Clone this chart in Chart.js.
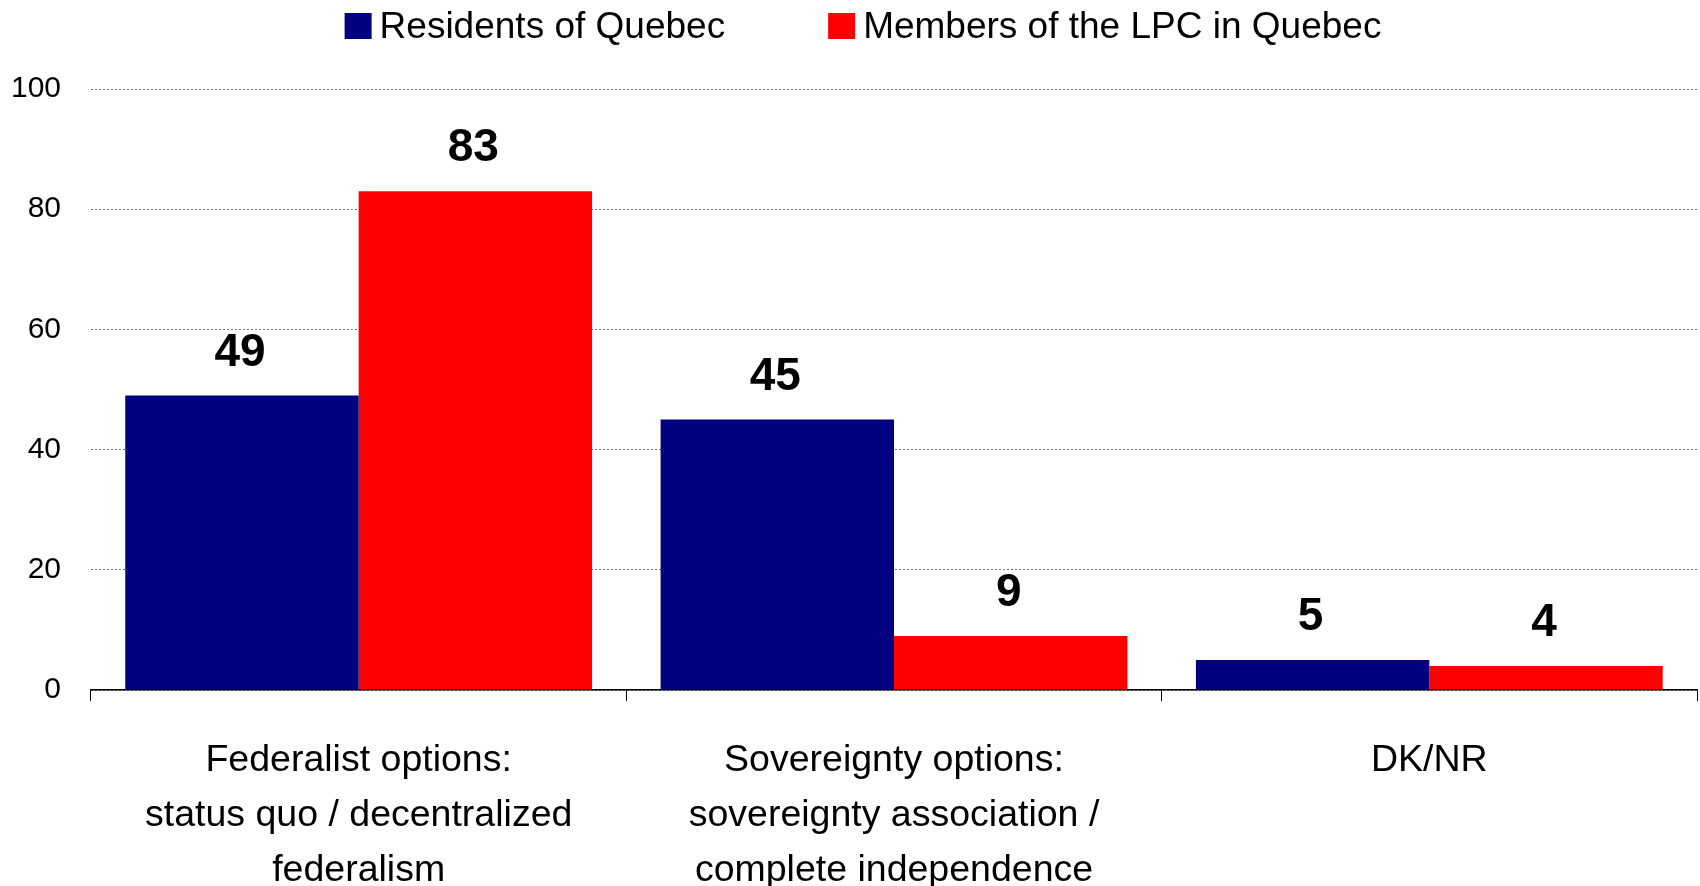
<!DOCTYPE html>
<html>
<head>
<meta charset="utf-8">
<script src="https://cdn.jsdelivr.net/npm/chart.js@4/dist/chart.umd.min.js"></script>
<style>
html,body{margin:0;padding:0;background:#fff;}
#wrap{width:1700px;height:886px;}
</style>
</head>
<body>
<div id="wrap"><canvas id="c"></canvas></div>
<script>
const categories = [
  ["Federalist options:", "status quo / decentralized", "federalism"],
  ["Sovereignty options:", "sovereignty association /", "complete independence"],
  ["DK/NR"]
];
const seriesNames = ["Residents of Quebec", "Members of the LPC in Quebec"];
const residents = [49, 45, 5];
const members = [83, 9, 4];
const yTicks = [0, 20, 40, 60, 80, 100];
const colors = ["#000080", "#FF0000"];

const FONT = "'Liberation Sans', Arial, sans-serif";

const valueLabels = {
  id: 'valueLabels',
  afterDatasetsDraw(chart) {
    const ctx = chart.ctx;
    ctx.save();
    ctx.fillStyle = '#000';
    ctx.font = 'bold 46px ' + FONT;
    ctx.textAlign = 'center';
    ctx.textBaseline = 'alphabetic';
    chart.data.datasets.forEach((ds, i) => {
      const meta = chart.getDatasetMeta(i);
      meta.data.forEach((bar, j) => {
        ctx.fillText(String(ds.data[j]), bar.x - 2, bar.y - 30);
      });
    });
    ctx.restore();
  }
};

const customLegend = {
  id: 'customLegend',
  afterDraw(chart) {
    const ctx = chart.ctx;
    ctx.save();
    ctx.font = '37px ' + FONT;
    const box = 27, gapText = 8, gapItems = 103;
    const items = chart.data.datasets.map(ds => ({label: ds.label, color: ds.backgroundColor, w: ctx.measureText(ds.label).width}));
    let total = 0;
    items.forEach((it, i) => { total += box + gapText + it.w + (i < items.length - 1 ? gapItems : 0); });
    let x = chart.width / 2 + 13 - total / 2;
    const boxTop = 13;
    items.forEach(it => {
      ctx.fillStyle = it.color;
      ctx.fillRect(x, boxTop, box, box - 1);
      ctx.fillStyle = '#000';
      ctx.textBaseline = 'alphabetic';
      ctx.textAlign = 'left';
      ctx.fillText(it.label, x + box + gapText, 38);
      x += box + gapText + it.w + gapItems;
    });
    ctx.restore();
  }
};

new Chart(document.getElementById('c'), {
  type: 'bar',
  data: {
    labels: categories,
    datasets: [
      {label: seriesNames[0], data: residents, backgroundColor: colors[0], borderWidth: 0},
      {label: seriesNames[1], data: members, backgroundColor: colors[1], borderWidth: 0}
    ]
  },
  options: {
    responsive: true,
    maintainAspectRatio: false,
    animation: false,
    layout: {padding: {top: 89, right: 3, bottom: 0, left: 0}},
    plugins: {
      legend: {display: false},
      tooltip: {enabled: false}
    },
    datasets: {bar: {categoryPercentage: 0.872, barPercentage: 1.0}},
    scales: {
      x: {
        offset: true,
        afterFit(scale) { scale.height = 196; },
        border: {display: true, color: '#000', width: 1.5},
        grid: {display: true, offset: true, drawOnChartArea: false, drawTicks: true, tickLength: 11, color: '#000', lineWidth: 1},
        ticks: {color: '#000', font: {family: FONT, size: 37.5, lineHeight: 1.47}, padding: 32, maxRotation: 0, autoSkip: false}
      },
      y: {
        min: 0, max: 100,
        afterFit(scale) { scale.width = 91; },
        afterBuildTicks(scale) { scale.ticks = yTicks.map(v => ({value: v})); },
        border: {display: false, dash: [2, 2]},
        grid: {color: '#777', lineWidth: 1, drawTicks: false},
        ticks: {color: '#000', font: {family: FONT, size: 30}, padding: 30}
      }
    }
  },
  plugins: [valueLabels, customLegend]
});
</script>
</body>
</html>
